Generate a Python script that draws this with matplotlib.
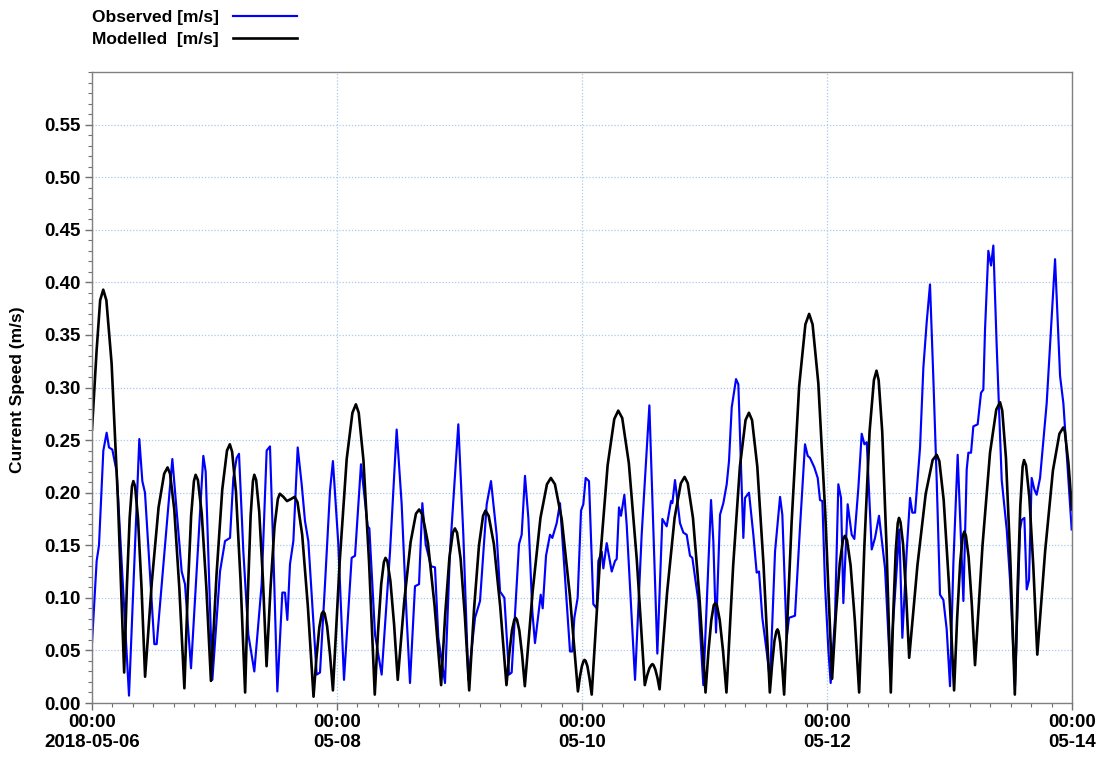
import numpy as np
import matplotlib
matplotlib.use('Agg')
import matplotlib.pyplot as plt
from matplotlib.ticker import MultipleLocator, FormatStrFormatter

# hours since 2018-05-06 00:00
obs_hours = [
    0.0, 0.91, 1.37, 2.22, 2.87, 3.33, 3.98, 4.83, 7.25, 9.27, 9.86, 10.38,
    12.21, 12.67, 15.74, 17.57, 18.22, 19.40, 21.81, 22.27, 23.58, 25.08,
    26.06, 27.04, 27.69, 28.34, 28.80, 29.65, 30.63, 31.80, 33.24, 34.22,
    34.87, 35.53, 36.31, 37.29, 37.81, 38.27, 38.79, 39.45, 40.30, 41.08,
    41.73, 42.38, 43.04, 44.02, 44.67, 45.65, 46.63, 47.20, 48.26, 49.37,
    50.87, 51.53, 52.70, 54.01, 54.34, 55.45, 56.75, 58.39, 59.69, 60.67,
    61.65, 62.30, 63.28, 64.07, 64.72, 65.37, 66.42, 67.20, 67.85, 69.16,
    70.14, 71.77, 72.75, 73.73, 75.04, 76.02, 77.33, 78.17, 79.28, 79.94,
    80.79, 81.70, 82.22, 83.66, 84.18, 84.83, 85.49, 86.27, 86.79, 87.91,
    88.30, 88.95, 89.73, 90.19, 91.04, 91.69, 93.65, 94.10, 94.50, 95.15,
    95.81, 96.26, 96.72, 97.37, 97.90, 98.22, 98.88, 99.20, 99.86, 100.18,
    100.84, 101.82, 102.47, 102.80, 103.25, 103.64, 104.30, 104.75, 106.39,
    107.69, 109.20, 110.76, 111.74, 112.59, 113.44, 113.70, 114.22, 115.20,
    115.86, 116.51, 117.16, 117.62, 118.79, 119.77, 121.28, 121.73, 122.26,
    123.04, 123.69, 124.35, 124.80, 125.33, 126.18, 126.63, 127.16, 127.61,
    127.94, 128.72, 129.57, 130.22, 130.68, 131.33, 132.18, 132.84, 133.82,
    134.80, 135.25, 136.10, 136.56, 137.73, 138.71, 139.69, 140.22, 140.67,
    141.52, 142.18, 142.63, 143.09, 143.61, 144.27, 144.72, 145.57, 146.22,
    146.75, 147.20, 148.05, 148.84, 149.36, 150.15, 150.80, 151.33, 151.79,
    152.76, 153.41, 154.19, 155.37, 156.35, 158.17, 158.76, 159.61, 160.27,
    160.72, 161.25, 162.23, 162.88, 163.53, 164.18, 164.84, 165.49, 166.14,
    166.80, 167.45, 168.10, 168.76, 169.60, 170.39, 170.72, 171.37, 171.70,
    172.22, 172.67, 173.52, 174.18, 174.63, 174.96, 175.61, 176.14, 176.59,
    177.25, 178.23, 179.21, 179.86, 180.84, 181.82, 182.15, 182.67, 183.13,
    183.58, 184.10, 184.63, 185.08, 185.74, 187.04, 188.68, 189.66, 190.31,
    191.94,
]
obs_speed = [
    0.057, 0.135, 0.150, 0.240, 0.257, 0.243, 0.241, 0.220, 0.007, 0.251, 0.211, 0.200,
    0.056, 0.056, 0.232, 0.125, 0.113, 0.033, 0.235, 0.220, 0.022, 0.125,
    0.154, 0.157, 0.214, 0.233, 0.237, 0.144, 0.065, 0.030, 0.113, 0.240,
    0.244, 0.144, 0.011, 0.105, 0.105, 0.079, 0.132, 0.154, 0.243, 0.208,
    0.173, 0.154, 0.103, 0.027, 0.029, 0.113, 0.202, 0.230, 0.151, 0.022,
    0.138, 0.140, 0.227, 0.168, 0.166, 0.065, 0.027, 0.144, 0.260, 0.189,
    0.081, 0.019, 0.111, 0.113, 0.190, 0.151, 0.130, 0.129, 0.062, 0.019,
    0.144, 0.265, 0.160, 0.022, 0.081, 0.097, 0.189, 0.211, 0.160, 0.106,
    0.100, 0.027, 0.029, 0.151, 0.160, 0.216, 0.176, 0.087, 0.057, 0.103,
    0.090, 0.140, 0.160, 0.157, 0.171, 0.190, 0.049, 0.049, 0.081, 0.100,
    0.183, 0.189, 0.214, 0.211, 0.138, 0.094, 0.090, 0.135, 0.144, 0.128,
    0.152, 0.125, 0.135, 0.137, 0.186, 0.178, 0.198, 0.170, 0.022,
    0.160, 0.283, 0.047, 0.175, 0.168, 0.192, 0.190, 0.212, 0.171,
    0.162, 0.160, 0.140, 0.138, 0.097, 0.017, 0.193, 0.154, 0.067,
    0.179, 0.190, 0.208, 0.230, 0.281, 0.308, 0.303, 0.224, 0.157,
    0.195, 0.200, 0.160, 0.124, 0.125, 0.081, 0.049, 0.021, 0.144,
    0.196, 0.179, 0.062, 0.081, 0.083, 0.167, 0.246, 0.235, 0.233,
    0.224, 0.214, 0.193, 0.192, 0.113, 0.050, 0.019, 0.081, 0.208,
    0.195, 0.095, 0.189, 0.160, 0.156, 0.205, 0.256, 0.246, 0.248,
    0.146, 0.157, 0.178, 0.128, 0.033, 0.165, 0.062, 0.144, 0.195,
    0.181, 0.181, 0.243, 0.319, 0.362, 0.398, 0.308, 0.212, 0.103,
    0.098, 0.070, 0.016, 0.133, 0.236, 0.139, 0.097, 0.222, 0.238,
    0.238, 0.263, 0.265, 0.295, 0.298, 0.355, 0.430, 0.416, 0.435,
    0.339, 0.212, 0.165, 0.117, 0.016, 0.165, 0.174, 0.176, 0.108,
    0.117, 0.214, 0.203, 0.198, 0.214, 0.285, 0.422, 0.311, 0.285,
    0.165,
]

model_hours = [
    0.0, 0.9, 1.6, 2.2, 2.815, 3.84, 5.07, 6.3, 6.84, 7.38, 7.83, 8.1, 8.445,
    9.02, 9.71, 10.4, 11.72, 13.04, 14.14, 14.8, 15.295, 16.12, 17.11, 18.1,
    18.76, 19.42, 19.97, 20.3, 20.75, 21.5, 22.4, 23.3, 24.41, 25.52, 26.445,
    27.0, 27.45, 28.2, 29.1, 30.0, 30.54, 31.08, 31.53, 31.8, 32.16, 32.76,
    33.48, 34.2, 34.98, 35.76, 36.41, 36.8, 37.5, 38.2, 39.0, 39.7, 40.255,
    41.18, 42.29, 43.4, 43.97, 44.54, 45.015, 45.3, 45.585, 46.06, 46.63,
    47.2, 48.55, 49.9, 51.025, 51.7, 52.255, 53.18, 54.29, 55.4, 56.03, 56.66,
    57.185, 57.5, 57.86, 58.46, 59.18, 59.9, 61.16, 62.42, 63.47, 64.1,
    64.745, 65.82, 67.11, 68.4, 69.21, 70.02, 70.695, 71.1, 71.52, 72.22,
    73.06, 73.9, 74.86, 75.82, 76.62, 77.1, 77.715, 78.74, 79.97, 81.2,
    81.74, 82.28, 82.73, 83.0, 83.27, 83.72, 84.26, 84.8, 86.33, 87.86,
    89.135, 89.9, 90.695, 92.02, 93.61, 95.2, 95.59, 95.98, 96.305, 96.5,
    96.71, 97.06, 97.48, 97.9, 99.46, 101.02, 102.32, 103.1, 103.88, 105.18,
    106.74, 108.3, 108.75, 109.2, 109.575, 109.8, 110.01, 110.36, 110.78,
    111.2, 112.67, 114.14, 115.365, 116.1, 116.715, 117.74, 118.97, 120.2,
    120.77, 121.34, 121.815, 122.1, 122.43, 122.98, 123.64, 124.3, 125.62,
    126.94, 128.04, 128.7, 129.315, 130.34, 131.57, 132.8, 133.25, 133.7,
    134.075, 134.3, 134.495, 134.82, 135.21, 135.6, 137.07, 138.54, 139.765,
    140.5, 141.175, 142.3, 143.65, 145.0, 145.75, 146.5, 147.125, 147.5,
    147.92, 148.62, 149.46, 150.3, 151.32, 152.34, 153.19, 153.7, 154.12,
    154.82, 155.66, 156.5, 156.98, 157.46, 157.86, 158.1, 158.4, 158.9,
    159.5, 160.1, 161.72, 163.34, 164.69, 165.5, 166.01, 166.86, 167.88,
    168.9, 169.5, 170.1, 170.6, 170.9, 171.215, 171.74, 172.37, 173.0,
    174.47, 175.94, 177.165, 177.9, 178.335, 179.06, 179.93, 180.8, 181.34,
    181.88, 182.33, 182.6, 182.99, 183.64, 184.42, 185.2, 186.73, 188.26,
    189.535, 190.3, 190.6, 191.3, 192.0,
]
model_speed = [
    0.260, 0.335, 0.383, 0.393, 0.383, 0.323, 0.194, 0.029, 0.112, 0.176, 0.206, 0.211, 0.206,
    0.175, 0.109, 0.025, 0.115, 0.186, 0.218, 0.224, 0.218, 0.184, 0.109, 0.014,
    0.106, 0.178, 0.211, 0.217, 0.212, 0.180, 0.110, 0.021, 0.123, 0.203, 0.240,
    0.246, 0.239, 0.201, 0.117, 0.010, 0.104, 0.178, 0.211, 0.217, 0.212, 0.182,
    0.118, 0.035, 0.110, 0.168, 0.194, 0.199, 0.196, 0.192, 0.194, 0.196, 0.191,
    0.160, 0.092, 0.006, 0.043, 0.072, 0.085, 0.087, 0.085, 0.073, 0.046,
    0.012, 0.136, 0.232, 0.276, 0.284, 0.276, 0.231, 0.133, 0.008, 0.067, 0.113,
    0.134, 0.138, 0.135, 0.116, 0.075, 0.022, 0.096, 0.153, 0.180, 0.184,
    0.179, 0.152, 0.093, 0.017, 0.085, 0.138, 0.162, 0.166, 0.162, 0.137,
    0.082, 0.012, 0.090, 0.150, 0.178, 0.183, 0.178, 0.151, 0.092, 0.017,
    0.046, 0.069, 0.079, 0.081, 0.079, 0.069, 0.046, 0.016, 0.106, 0.176,
    0.208, 0.214, 0.208, 0.175, 0.103, 0.011, 0.025, 0.035, 0.040, 0.041,
    0.040, 0.035, 0.023, 0.008, 0.131, 0.226, 0.270, 0.278, 0.271, 0.228,
    0.136, 0.017, 0.026, 0.033, 0.036, 0.037, 0.036, 0.032, 0.024,
    0.013, 0.105, 0.176, 0.209, 0.215, 0.209, 0.176, 0.103, 0.010,
    0.049, 0.079, 0.093, 0.095, 0.093, 0.079, 0.049, 0.010, 0.131,
    0.225, 0.269, 0.276, 0.269, 0.225, 0.131, 0.010, 0.037, 0.059,
    0.068, 0.070, 0.068, 0.058, 0.036, 0.008, 0.172, 0.301, 0.360,
    0.370, 0.360, 0.304, 0.181, 0.023, 0.085, 0.133, 0.155, 0.159,
    0.155, 0.131, 0.078, 0.010, 0.149, 0.258, 0.307, 0.316, 0.307,
    0.258, 0.149, 0.010, 0.085, 0.144, 0.171, 0.176, 0.172, 0.151,
    0.103, 0.043, 0.131, 0.199, 0.231, 0.236, 0.230, 0.193, 0.114,
    0.012, 0.081, 0.134, 0.159, 0.163, 0.159, 0.139, 0.094, 0.036,
    0.150, 0.238, 0.279, 0.286, 0.278, 0.233, 0.134, 0.008, 0.109,
    0.188, 0.225, 0.231, 0.226, 0.196, 0.130, 0.046, 0.144, 0.221,
    0.256, 0.262, 0.258, 0.228, 0.184,
]

tick_hours = [0, 48, 96, 144, 192]
tick_labels = ['00:00\n2018-05-06', '00:00\n05-08', '00:00\n05-10',
               '00:00\n05-12', '00:00\n05-14']
y_ticks = [0.0, 0.05, 0.1, 0.15, 0.2, 0.25, 0.3, 0.35, 0.4, 0.45, 0.5, 0.55]

plt.rcParams['font.family'] = ['Liberation Sans', 'DejaVu Sans']
plt.rcParams['font.weight'] = 'bold'

fig = plt.figure(figsize=(11.12, 7.58), dpi=100)
ax = fig.add_axes([92 / 1112, 55 / 758, 980 / 1112, 631 / 758])

ax.plot(obs_hours, obs_speed, color='#0000ff', lw=1.55,
        label='Observed [m/s]', solid_joinstyle='round')
ax.plot(model_hours, model_speed, color='black', lw=1.9,
        label='Modelled  [m/s]', solid_joinstyle='round')

ax.set_xlim(0, 192)
ax.set_ylim(0, 0.6)
ax.set_xticks(tick_hours)
ax.set_xticklabels(tick_labels, fontsize=13.5, fontweight='bold')
ax.xaxis.set_minor_locator(MultipleLocator(4))
ax.set_yticks(y_ticks)
ax.yaxis.set_major_formatter(FormatStrFormatter('%.2f'))
ax.yaxis.set_minor_locator(MultipleLocator(0.01))
for lab in ax.get_yticklabels():
    lab.set_fontsize(13.5)
    lab.set_fontweight('bold')

ax.grid(True, which='major', color='#a9c9ee', linestyle=(0, (1, 1.5)), lw=0.9)
ax.set_axisbelow(True)

for sp in ax.spines.values():
    sp.set_color('#808080')
    sp.set_linewidth(1.0)
ax.tick_params(which='major', length=5, width=1, color='#707070', pad=3)
ax.tick_params(which='minor', length=3, width=0.8, color='#707070')

fig.text(18 / 1112, 1 - 390 / 758, 'Current Speed (m/s)', rotation=90,
         ha='center', va='center', fontsize=12.5, fontweight='bold')

fig.legend(loc='upper left', bbox_to_anchor=(92 / 1112, 1 - 10 / 758),
           frameon=False, markerfirst=False, handlelength=3.7,
           handletextpad=0.8, labelspacing=0.38, borderpad=0,
           borderaxespad=0, prop={'size': 12.5, 'weight': 'bold'})

fig.savefig('out.png', dpi=100)
